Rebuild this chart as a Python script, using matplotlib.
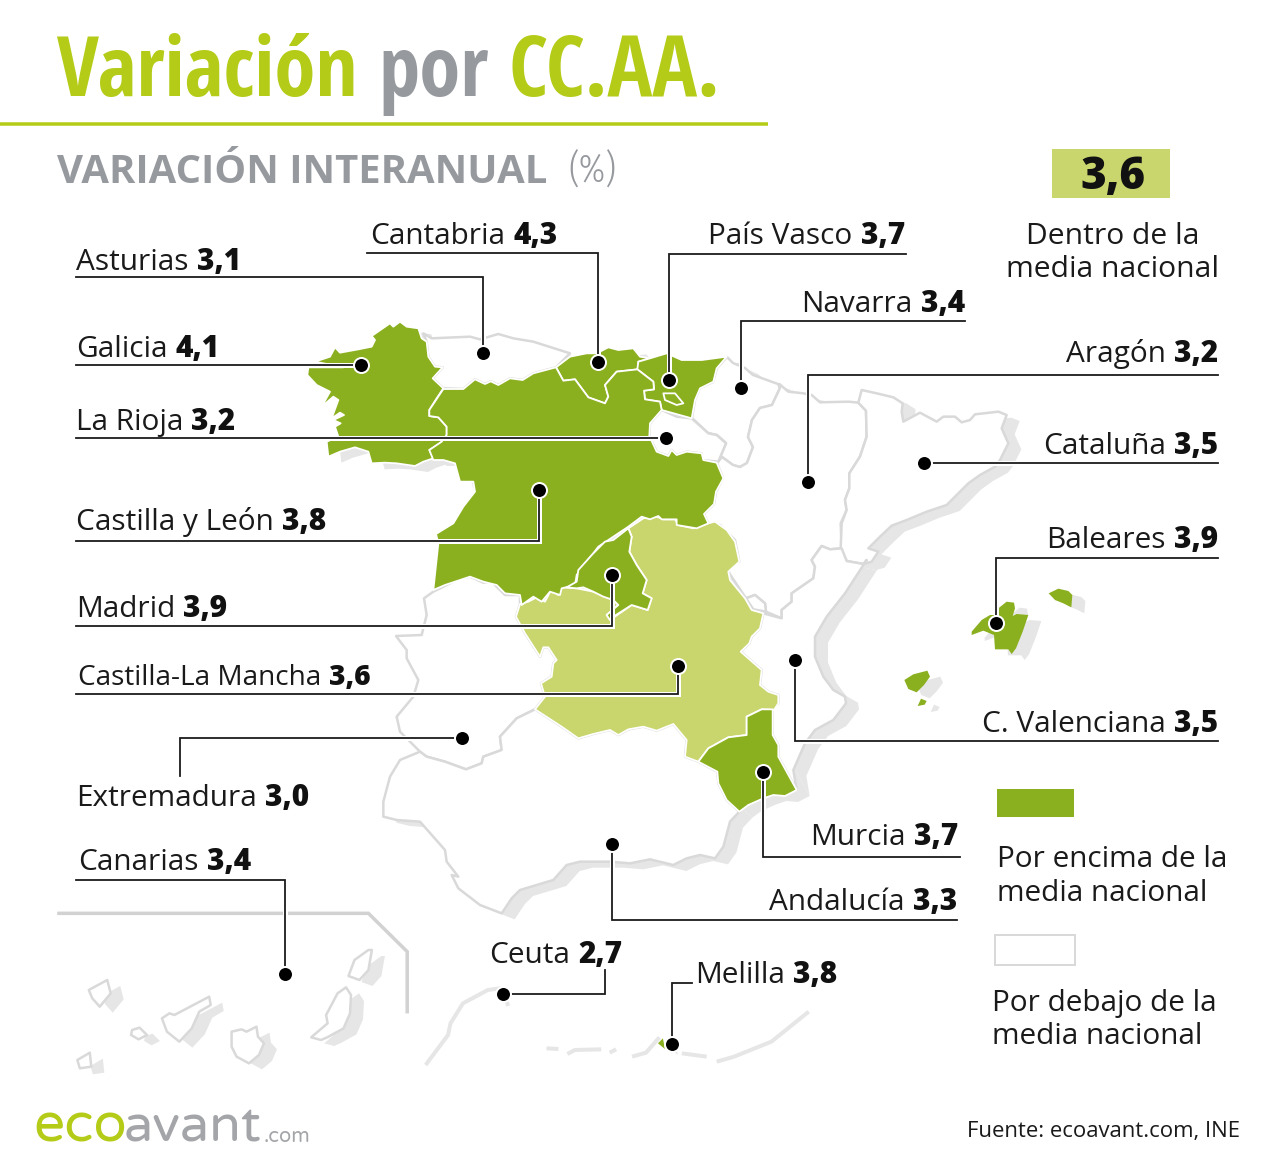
import matplotlib
matplotlib.use('Agg')
import matplotlib.pyplot as plt
import matplotlib.patheffects as pe
from matplotlib.patches import Polygon, Rectangle

# data
regions = ['Asturias', 'Cantabria', 'País Vasco', 'Navarra', 'Aragón', 'Galicia', 'La Rioja', 'Cataluña',
           'Castilla y León', 'Baleares', 'Madrid', 'Castilla-La Mancha', 'C. Valenciana', 'Extremadura',
           'Murcia', 'Andalucía', 'Canarias', 'Ceuta', 'Melilla']
values = [3.1, 4.3, 3.7, 3.4, 3.2, 4.1, 3.2, 3.5, 3.8, 3.9, 3.9, 3.6, 3.5, 3.0, 3.7, 3.3, 3.4, 2.7, 3.8]
national = 3.6

GREEN = '#8bb01f'
LIGHT = '#c9d66e'
LIME = '#b4cb17'
GREY = '#96999e'
EDGE = '#d9d9d9'
SHADOW = '#e6e6e6'
FONT = 'Open Sans'
NARROW = ['Open Sans Condensed', 'Fira Sans Condensed', 'Roboto Condensed', 'Open Sans']
NARROW_LIGHT = ['Open Sans Condensed Light', 'Fira Sans Extra Condensed', 'Open Sans']
LOGO = ['Varela Round', 'Lato']


# outlines were traced on zoomed crops, these bring them back to image pixels
def z1(*p):
    return [(300 + x / 3, 310 + y / 3) for x, y in p]

def z2(*p):
    return [(380 + x / 3, 500 + y / 3) for x, y in p]

def z3(*p):
    return [(720 + x / 3, 360 + y / 3) for x, y in p]

def z4(*p):
    return [(50 + x / 2.01, 900 + y / 3) for x, y in p]


galicia = z1((45,155),(90,140),(105,112),(120,128),(175,118),(215,110),(225,90),(215,78),(270,40),(280,50),(300,35),
             (320,50),(355,55),(365,85),(380,95),(385,140),(405,170),(428,172),(398,205),(430,235),(410,265),(388,300),
             (388,318),(415,322),(440,350),(440,380),(420,400),(388,420),(400,445),(370,455),(345,468),(290,460),
             (255,458),(215,460),(205,425),(165,412),(120,425),(85,440),(80,395),(115,380),(105,350),(122,340),
             (100,330),(132,315),(120,308),(95,325),(115,270),(100,260),(65,290),(90,245),(50,225),(22,195),(25,172),(130,172))
asturias = z1((370,70),(395,85),(510,80),(540,88),(595,72),(640,85),(700,95),(810,130),(768,172),(700,190),(668,210),
              (630,205),(595,225),(572,214),(555,222),(525,208),(490,237),(430,235),(398,205),(428,172),(405,170),
              (385,140),(380,95))
cantabria = z1((768,172),(810,140),(860,130),(890,130),(925,112),(955,120),(1000,115),(1020,140),(1050,145),(1015,155),
               (1015,178),(950,185),(915,225),(925,260),(915,280),(865,262),(825,208),(790,212))
pais_vasco = z1((1015,155),(1050,145),(1100,130),(1145,150),(1205,150),(1280,140),(1250,175),(1240,215),(1200,235),
                (1185,270),(1175,325),(1085,300),(1080,275),(1035,268),(1032,242),(1062,238),(1060,215),(1012,178))
trevino = z1((1090,250),(1125,250),(1150,280),(1130,285),(1095,270))
rioja = z1((1085,300),(1130,320),(1175,325),(1225,370),(1250,375),(1278,400),(1255,455),(1205,450),(1205,430),(1160,425),
           (1130,435),(1115,420),(1105,438),(1070,425),(1048,378),(1050,340))
cyl = z1((430,237),(490,237),(525,208),(555,222),(572,214),(595,225),(630,205),(668,210),(700,190),(768,172),(790,212),
         (825,208),(865,262),(915,280),(925,260),(915,225),(950,185),(1012,178),(1060,215),(1062,238),(1032,242),
         (1035,268),(1080,275),(1085,300),(1050,340),(1048,378),(1070,425),(1105,438),(1115,420),(1130,435),(1160,425),
         (1205,430),(1210,450),(1250,458),(1270,505),(1248,545),(1242,582),(1212,612),(1225,640),(1190,655),(1130,645),
         (1130,628),(1085,628),(1075,618),(1050,628),(1025,620),(985,650),(895,710),(880,730),(855,760),(830,795),
         (825,825),(785,835),(780,855),(750,845),(725,875),(700,860),(665,885),(660,855),(615,850),(590,825),(550,815),
         (510,800),(480,810),(435,825),(400,840),(415,700),(408,672),(460,640),(490,590),(525,545),(520,515),(480,515),
         (465,460),(430,450),(400,450),(388,420),(425,395),(440,375),(440,350),(415,322),(388,318),(388,300))
navarra = [(727,357),(733,363),(745,368),(753,375),(778,384),(780,388),(772,405),(760,408),(752,420),(748,437),(753,447),
           (747,463),(740,467),(733,465),(722,457),(718,462),(726,443),(717,435),(708,433),(692,418),(695,400),(700,388),
           (713,382),(717,368)]
aragon = z3((178,72),(205,95),(250,100),(275,105),(300,127),(385,125),(415,128),(438,152),(440,230),(420,290),(388,340),
            (388,385),(375,420),(380,450),(362,490),(365,565),(330,568),(305,558),(275,600),(285,620),(280,655),(215,700),
            (215,725),(185,750),(185,775),(138,755),(135,730),(105,705),(78,715),(28,640),(22,620),(58,605),(45,540),
            (0,495)) + [(708,523),(704,514),(714,504),(716,492),(723,478),(717,463),(722,457),(733,465),(740,467),
                        (747,463),(753,447),(748,437),(752,420),(760,408),(772,405),(780,388)]
ademuz = z3((78,715),(105,705),(135,730),(138,755),(100,748))
cataluna = z3((415,128),(425,90),(470,100),(520,112),(548,130),(545,155),(550,185),(600,158),(650,185),(670,170),(705,170),
              (725,187),(750,180),(765,163),(835,155),(860,165),(845,205),(865,250),(840,300),(825,320),(780,345),(745,370),
              (680,435),(620,455),(560,480),(515,497),(480,530),(445,565),(475,575),(455,605),(430,612),(380,603),(362,565),
              (365,490),(380,450),(375,420),(388,385),(388,340),(420,290),(440,230),(438,152))
valencia = z3((185,775),(185,750),(215,725),(215,700),(280,655),(285,620),(275,600),(305,558),(330,568),(365,565),(380,603),
              (430,612),(440,600),(375,700),(320,770),(285,830),(285,890),(310,950),(340,990),(375,1010),(378,1030),
              (340,1080),(285,1110)) + z2((1275,730),(1240,810),(1250,870),(1195,770),(1195,735),(1178,705),(1178,628),
                                          (1195,610),(1195,585),(1165,575),(1140,555),(1145,510),(1082,455),(1108,430),
                                          (1115,410),(1140,385),(1150,340))
madrid = z2((745,85),(755,110),(748,155),(770,195),(800,240),(788,280),(815,295),(803,330),(755,315),(700,350),(690,360),
            (680,345),(715,315),(700,300),(670,290),(640,275),(610,262),(590,265),(560,262),(590,245),(595,210),(640,160),
            (675,125),(700,120))
clm = z2((745,85),(790,55),(825,48),(850,58),(885,58),(895,75),(940,85),(985,70),(1005,65),(1040,90),(1065,125),(1078,185),
         (1045,215),(1050,240),(1095,295),(1115,330),(1150,340),(1140,385),(1115,410),(1108,430),(1082,455),(1145,510),
         (1140,555),(1165,575),(1195,585),(1195,610),(1182,630),(1145,628),(1100,650),(1100,705),(1045,712),(985,745),
         (955,785),(915,770),(920,720),(880,672),(830,692),(790,680),(745,688),(715,705),(690,690),(640,702),(595,715),
         (545,680),(465,628),(495,590),(483,550),(515,530),(520,490),(530,480),(505,442),(490,442),(480,470),(435,400),
         (408,350),(420,312),(445,305),(470,292),(495,305),(513,270),(535,285),(545,262),(590,265),(640,275),(700,300),
         (715,315),(680,345),(690,360),(755,315),(803,330),(815,295),(788,280),(800,240),(770,195),(748,155),(755,110))
murcia = z2((955,785),(985,745),(1045,712),(1100,705),(1100,650),(1145,628),(1178,628),(1178,705),(1195,735),(1195,770),
            (1250,870),(1215,888),(1180,885),(1150,895),(1105,915),(1078,935),(1040,900),(1015,850),(1012,815))
extremadura = z2((160,275),(240,235),(270,230),(310,248),(335,245),(375,285),(420,285),(420,312),(408,350),(435,400),
                 (480,470),(490,442),(505,442),(530,480),(520,490),(515,530),(483,550),(495,590),(465,628),(410,655),
                 (360,710),(365,750),(310,770),(305,790),(258,808),(195,785),(140,770),(120,755),(60,695),(50,650),
                 (100,590),(115,540),(80,475),(80,450),(48,408),(125,405),(140,345),(132,295))
andalucia = z2((120,755),(140,770),(195,785),(258,808),(305,790),(310,770),(365,750),(360,710),(410,655),(465,628),(545,680),
               (595,715),(640,702),(690,690),(715,705),(745,688),(790,680),(830,692),(880,672),(920,720),(915,770),(955,785),
               (1012,815),(1015,850),(1040,900),(1078,935),(1050,965),(1030,1040),(1005,1075),(960,1065),(920,1075),
               (880,1095),(810,1078),(750,1090),(690,1085),(600,1085),(560,1095),(520,1140),(420,1170),(395,1195),(375,1225),
               (365,1240),(300,1215),(235,1165),(215,1125),(235,1130),(200,1085),(195,1050),(120,965),(50,960),(10,950),
               (10,905),(30,830),(60,780))
mallorca = z3((755,825),(755,815),(785,780),(810,765),(835,765),(835,745),(860,725),(882,728),(885,745),(878,768),(890,762),
              (925,765),(908,815),(888,865),(875,882),(865,868),(825,868),(822,825),(790,812))
menorca = z3((986,700),(1015,686),(1045,693),(1057,705),(1054,742),(1030,730),(1005,720))
ibiza = z3((553,960),(580,943),(622,932),(630,950),(612,975),(590,997),(565,987))
formentera = z3((593,1038),(603,1016),(620,1023),(614,1034))
lanzarote = z4((612,180),(640,150),(647,150),(640,210),(622,240),(600,228))
fuerteventura = z4((595,262),(605,285),(603,340),(590,385),(560,410),(545,420),(525,412),(558,370),(555,345),(578,280))
gran_canaria = z4((365,395),(385,388),(395,395),(415,380),(418,410),(430,430),(420,465),(400,490),(375,470),(365,440))
tenerife = z4((225,355),(240,340),(250,345),(320,290),(323,315),(300,335),(285,385),(260,425),(235,395))
gomera = z4((165,390),(180,383),(195,405),(178,418),(163,405))
la_palma = z4((78,270),(115,240),(122,280),(100,320),(85,295))
hierro = z4((55,480),(80,458),(83,500),(60,505))
melilla = z4((1222,430),(1232,415),(1236,447))

canary_box = z4((18,40),(640,40),(718,155),(718,335))
africa = [z4((755,495),(800,405),(805,370),(830,310),(880,270),(905,265)), z4((918,305),(921,318)), z4((998,445),(1022,447)),
          z4((1040,462),(1055,450),(1108,448)), z4((1125,458),(1138,448)), z4((1170,470),(1198,458),(1225,412)),
          z4((1270,460),(1320,470)), z4((1340,485),(1375,470),(1450,425),(1525,335))]

outlines = {'Asturias': [asturias], 'Cantabria': [cantabria], 'País Vasco': [pais_vasco], 'Navarra': [navarra],
            'Aragón': [aragon], 'Galicia': [galicia], 'La Rioja': [rioja], 'Cataluña': [cataluna],
            'Castilla y León': [cyl, trevino], 'Baleares': [mallorca, menorca, ibiza, formentera],
            'Madrid': [madrid], 'Castilla-La Mancha': [clm], 'C. Valenciana': [valencia, ademuz],
            'Extremadura': [extremadura], 'Murcia': [murcia], 'Andalucía': [andalucia],
            'Canarias': [lanzarote, fuerteventura, gran_canaria, tenerife, gomera, la_palma, hierro],
            'Ceuta': [], 'Melilla': [melilla]}

# label anchor (x, baseline, ha) and leader path, last point carries the dot
layout = {'Asturias': (76, 270, 'left', [(76,277),(483,277),(483,353)]),
          'Cantabria': (370, 244, 'left', [(367,253),(598,253),(598,362)]),
          'País Vasco': (905, 244, 'right', [(906,254),(669,254),(669,380)]),
          'Navarra': (965, 312, 'right', [(965,321),(741,321),(741,388)]),
          'Aragón': (1218, 362, 'right', [(1218,375),(808,375),(808,482)]),
          'Galicia': (76, 357, 'left', [(76,365),(361,365)]),
          'La Rioja': (76, 430, 'left', [(76,438),(666,438)]),
          'Cataluña': (1218, 454, 'right', [(1218,463),(924,463)]),
          'Castilla y León': (76, 530, 'left', [(76,541),(539,541),(539,490)]),
          'Baleares': (1218, 548, 'right', [(1218,558),(996,558),(996,623)]),
          'Madrid': (76, 617, 'left', [(76,626),(612,626),(612,575)]),
          'Castilla-La Mancha': (78, 685, 'left', [(76,694),(678,694),(678,666)]),
          'C. Valenciana': (1218, 732, 'right', [(1218,741),(795,741),(795,660)]),
          'Extremadura': (76, 806, 'left', [(180,776),(180,738),(462,738)]),
          'Murcia': (958, 845, 'right', [(960,857),(763,857),(763,772)]),
          'Andalucía': (957, 910, 'right', [(957,920),(612,920),(612,844)]),
          'Canarias': (78, 870, 'left', [(76,880),(285,880),(285,974)]),
          'Ceuta': (489, 963, 'left', [(605,970),(605,994),(503,994)]),
          'Melilla': (695, 983, 'left', [(692,983),(672,983),(672,1044)])}
# this one is set tighter in the reference
label_size = {'Castilla-La Mancha': 28}
no_edge = ['Baleares', 'Melilla']


def px(size):
    return size * 72 / 100


def fill_for(v):
    if v > national:
        return GREEN
    if v == national:
        return LIGHT
    return 'white'


def shifted(pts, dx=13, dy=6):
    return [(x + dx, y + dy) for x, y in pts]


fig = plt.figure(figsize=(12.8, 11.65), dpi=100, facecolor='white')
ax = fig.add_axes([0, 0, 1, 1])
ax.set_xlim(0, 1280); ax.set_ylim(1165, 0); ax.axis('off')
renderer = fig.canvas.get_renderer()


def label(name, value, x, y, ha):
    txt = f'{value:.1f}'.replace('.', ',')
    size = label_size.get(name, 29.8)
    a = ax.text(0, y, name, fontsize=px(size), family=FONT, color='#1a1a1a', va='baseline', zorder=8)
    b = ax.text(0, y, txt, fontsize=px(size), family=FONT, weight=800, color='#111111', va='baseline', zorder=8)
    wa = a.get_window_extent(renderer).width
    wb = b.get_window_extent(renderer).width
    x0 = x if ha == 'left' else x - wa - 8 - wb
    a.set_x(x0); b.set_x(x0 + wa + 8)


# shadows below everything
for name in regions:
    for pts in outlines[name]:
        ax.add_patch(Polygon(shifted(pts), closed=True, fc=SHADOW, ec='none', zorder=1))
for seg in africa:
    ax.plot(*zip(*seg), color=SHADOW, lw=px(4), zorder=1, solid_capstyle='butt')
ax.plot(*zip(*canary_box), color='#d2d2d2', lw=px(3.5), zorder=1, solid_joinstyle='miter')

# white regions first so the white edges of the coloured ones stay on top
order = sorted(range(len(regions)), key=lambda i: fill_for(values[i]) != 'white')
for i in order:
    name = regions[i]
    col = fill_for(values[i])
    for pts in outlines[name]:
        ec = EDGE if col == 'white' else 'white'
        lw = 0 if name in no_edge else px(2.5 if col == 'white' else 1.8)
        ax.add_patch(Polygon(pts, closed=True, fc=col, ec=ec, lw=lw, zorder=2 + (col == GREEN) * 0.5,
                             joinstyle='round'))

halo = [pe.withStroke(linewidth=px(5), foreground='white')]
for name, v in zip(regions, values):
    x, y, ha, path = layout[name]
    label(name, v, x, y, ha)
    ax.plot(*zip(*path), color='#1a1a1a', lw=px(1.8), zorder=5, path_effects=halo, solid_joinstyle='miter')
    ax.plot(*path[-1], 'o', ms=px(15), mfc='black', mec='white', mew=px(2), zorder=6)

# header
ax.text(57, 96, 'Variación', fontsize=px(83.2), family=NARROW, weight='bold', color=LIME, zorder=8)
ax.text(378, 96, 'por', fontsize=px(83.2), family=NARROW, weight='bold', color=GREY, zorder=8)
ax.text(509, 96, 'CC.AA.', fontsize=px(84), family=NARROW, weight='bold', color=LIME, zorder=8)
ax.plot([0, 768], [124, 124], color=LIME, lw=px(3.5), zorder=3, solid_capstyle='butt')
ax.text(57, 183, 'VARIACIÓN INTERANUAL', fontsize=px(40), family=FONT, weight='bold', color=GREY)
ax.text(568, 183, '(%)', fontsize=px(40), family=NARROW_LIGHT, weight=300, color=GREY)

# national figure and legend
ax.add_patch(Rectangle((1052, 149), 118, 49, fc=LIGHT, ec='none'))
ax.text(1113, 189, f'{national:.1f}'.replace('.', ','), fontsize=px(44), family=FONT, weight=800, color='#111111', ha='center')
ax.text(1113, 244, 'Dentro de la', fontsize=px(30), family=FONT, color='#1a1a1a', ha='center')
ax.text(1113, 277, 'media nacional', fontsize=px(30), family=FONT, color='#1a1a1a', ha='center')
ax.add_patch(Rectangle((997, 789), 77, 28, fc=GREEN, ec='none'))
ax.text(997, 867, 'Por encima de la', fontsize=px(29.7), family=FONT, color='#1a1a1a')
ax.text(997, 901, 'media nacional', fontsize=px(29.7), family=FONT, color='#1a1a1a')
ax.add_patch(Rectangle((995, 935), 80, 30, fc='white', ec=EDGE, lw=px(2)))
ax.text(992, 1011, 'Por debajo de la', fontsize=px(29.7), family=FONT, color='#1a1a1a')
ax.text(992, 1044, 'media nacional', fontsize=px(29.7), family=FONT, color='#1a1a1a')

# footer
ax.text(1240, 1137, 'Fuente: ecoavant.com, INE', fontsize=px(22.1), family=FONT, color='#1a1a1a', ha='right')
ax.text(33, 1142, 'eco', fontsize=px(55), family=LOGO, color=LIME)
ax.text(124, 1142, 'avant', fontsize=px(52), family=LOGO, color='#a3a5a8')
ax.text(264, 1142, '.com', fontsize=px(20), family=LOGO, color='#a3a5a8')

fig.savefig('out.png', dpi=100)
